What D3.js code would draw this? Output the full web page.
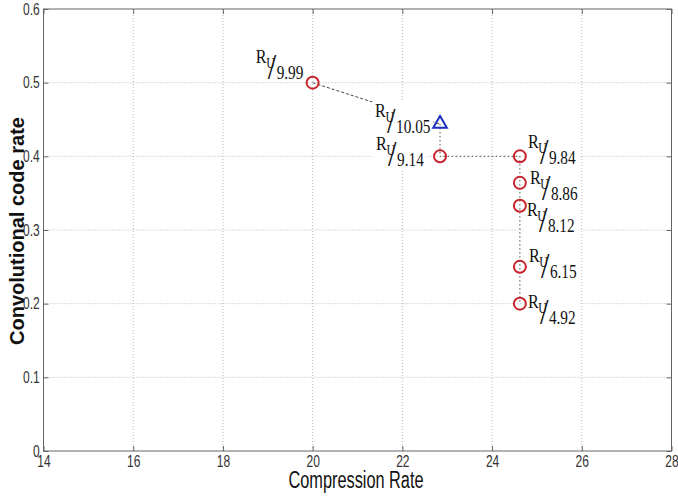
<!DOCTYPE html>
<html>
<head>
<meta charset="utf-8">
<script src="https://cdn.jsdelivr.net/npm/d3@7"></script>
<style>
  html, body { margin: 0; padding: 0; background: #fff; }
  svg { display: block; }
</style>
</head>
<body>
<svg id="chart" width="678" height="498"></svg>
<script>
// ---- data ----
const compressionRate = [20, 22.84, 22.84, 24.62, 24.62, 24.62, 24.62, 24.62];
const codeRate        = [0.5, 0.444, 0.4, 0.4, 0.364, 0.333, 0.25, 0.2];
const markerShape     = ["circle", "triangle", "circle", "circle", "circle", "circle", "circle", "circle"];
const ratioLabels     = ["9.99", "10.05", "9.14", "9.84", "8.86", "8.12", "6.15", "4.92"];
const xTickValues     = [14, 16, 18, 20, 22, 24, 26, 28];
const yTickValues     = [0, 0.1, 0.2, 0.3, 0.4, 0.5, 0.6];

// ---- layout (label offsets relative to each point, px) ----
const labelDx = [-57, -65, -64, 8, 10, 7, 9, 8];
const labelDy = [-20, -7, -6, -8, 1, 10, -5, 4];

const svg = d3.select("#chart");
const L = 43.5, R = 671.5, T = 9, B = 451;
const x = d3.scaleLinear().domain([14, 28]).range([L, R]);
const y = d3.scaleLinear().domain([0, 0.6]).range([B, T]);

// grid
const grid = svg.append("g").attr("stroke", "#b8b8b8").attr("stroke-width", 1).attr("stroke-dasharray", "1,2");
xTickValues.slice(1, -1).forEach(v => {
  grid.append("line").attr("x1", x(v)).attr("x2", x(v)).attr("y1", T).attr("y2", B);
});
yTickValues.slice(1, -1).forEach(v => {
  grid.append("line").attr("x1", L).attr("x2", R).attr("y1", y(v)).attr("y2", y(v));
});

// axes
const tickFont = "Liberation Sans, Arial, sans-serif";
function styleAxis(g) {
  g.select(".domain").remove();
  g.selectAll(".tick line").attr("stroke", "#666");
  g.selectAll(".tick text").attr("fill", "#333").attr("font-size", 16).attr("font-family", tickFont);
}
const xAxisB = svg.append("g").attr("transform", `translate(0,${B})`)
  .call(d3.axisBottom(x).tickValues(xTickValues).tickSize(-5).tickPadding(5).tickFormat(d3.format("d")));
styleAxis(xAxisB);
xAxisB.selectAll(".tick text").attr("transform", "scale(0.75,1)");

const xAxisT = svg.append("g").attr("transform", `translate(0,${T})`)
  .call(d3.axisTop(x).tickValues(xTickValues).tickSize(-5).tickFormat(""));
styleAxis(xAxisT);

const yAxisL = svg.append("g").attr("transform", `translate(${L},0)`)
  .call(d3.axisLeft(y).tickValues(yTickValues).tickSize(-5).tickPadding(5).tickFormat(d => d === 0 ? "0" : d3.format(".1f")(d)));
styleAxis(yAxisL);
yAxisL.selectAll(".tick text").attr("transform", "scale(0.75,1)");

const yAxisR = svg.append("g").attr("transform", `translate(${R},0)`)
  .call(d3.axisRight(y).tickValues(yTickValues).tickSize(-5).tickFormat(""));
styleAxis(yAxisR);

// frame
svg.append("rect").attr("x", L).attr("y", T).attr("width", R - L).attr("height", B - T)
  .attr("fill", "none").attr("stroke", "#666").attr("stroke-width", 1);

// axis titles
svg.append("text").attr("x", 356).attr("y", 488).attr("text-anchor", "middle")
  .attr("font-family", tickFont).attr("font-size", 23).attr("fill", "#111")
  .attr("textLength", 135).attr("lengthAdjust", "spacingAndGlyphs")
  .text("Compression Rate");
svg.append("text").attr("transform", `translate(24,${231}) rotate(-90)`).attr("text-anchor", "middle")
  .attr("font-family", tickFont).attr("font-size", 21).attr("font-weight", "bold").attr("fill", "#111")
  .attr("textLength", 228).attr("lengthAdjust", "spacingAndGlyphs")
  .text("Convolutional code rate");

// connecting lines
const pts = compressionRate.map((c, i) => [x(c), y(codeRate[i])]);
svg.append("path").attr("d", d3.line()(pts.slice(0, 2)))
  .attr("fill", "none").attr("stroke", "#444").attr("stroke-width", 1).attr("stroke-dasharray", "3,2");
svg.append("path").attr("d", d3.line()(pts.slice(1)))
  .attr("fill", "none").attr("stroke", "#555").attr("stroke-width", 1).attr("stroke-dasharray", "1.5,2.5");

// labels
const sx = 0.85;
ratioLabels.forEach((lab, i) => {
  const x0 = pts[i][0] + labelDx[i];
  const b = pts[i][1] + labelDy[i];
  const lg = svg.append("g").attr("transform", `translate(${x0},${b}) scale(${sx},1)`)
    .attr("font-family", "Liberation Serif, Times New Roman, serif").attr("fill", "#111");
  const bg = lg.append("rect").attr("fill", "#fff");
  lg.append("text").attr("x", 0).attr("y", 0).attr("font-size", 19).text("R");
  lg.append("text").attr("x", 10.5 / sx).attr("y", 5).attr("font-size", 14).text("U");
  lg.append("text").attr("x", 12 / sx).attr("y", 16).attr("font-size", 36).text("/");
  const num = lg.append("text").attr("x", 21 / sx).attr("y", 16).attr("font-size", 18).text(lab);
  const nb = num.node().getBBox();
  bg.attr("x", -3 / sx).attr("y", -15).attr("width", nb.x + nb.width + 6 / sx).attr("height", 34);
});

// markers
pts.forEach((p, i) => {
  if (markerShape[i] === "circle") {
    svg.append("circle").attr("cx", p[0]).attr("cy", p[1]).attr("r", 6)
      .attr("fill", "none").attr("stroke", "#c8262c").attr("stroke-width", 2);
  } else {
    svg.append("path").attr("transform", `translate(${p[0]},${p[1]})`)
      .attr("d", d3.symbol().type(d3.symbolTriangle).size(80)())
      .attr("fill", "none").attr("stroke", "#1c2fc0").attr("stroke-width", 2);
  }
});
</script>
</body>
</html>
